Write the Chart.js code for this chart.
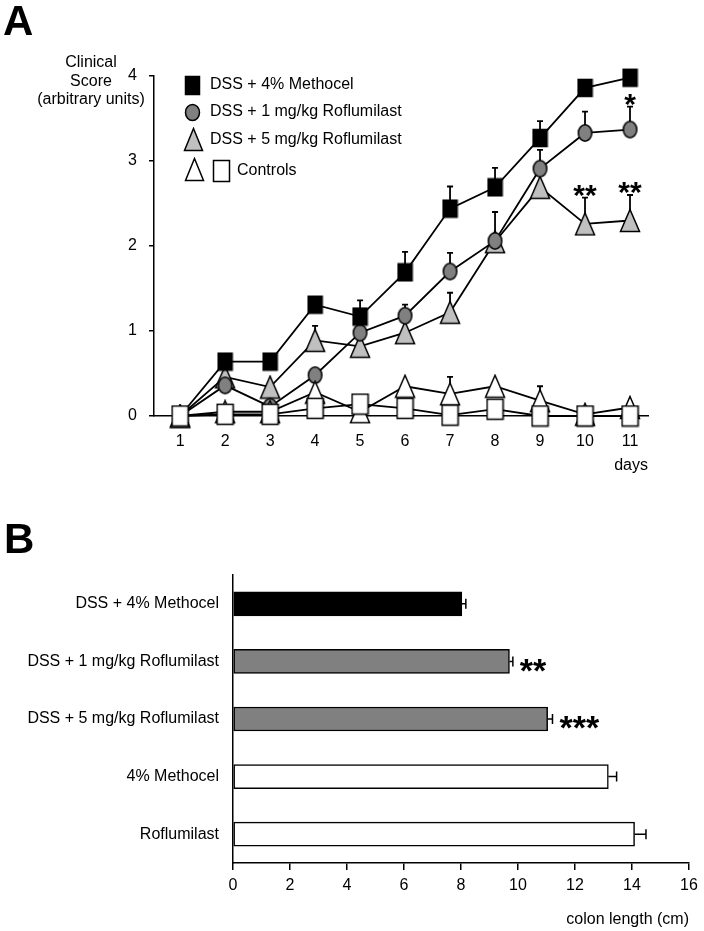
<!DOCTYPE html>
<html>
<head>
<meta charset="utf-8">
<script src="https://cdn.jsdelivr.net/npm/chart.js@4.4.1/dist/chart.umd.min.js"></script>
<style>
  html, body { margin: 0; padding: 0; background: #fff; }
  #page { position: relative; width: 704px; height: 931px; }
  .box { position: absolute; left: 0; width: 704px; }
  #boxA { top: 0; height: 480px; }
  #boxB { top: 480px; height: 451px; }
</style>
</head>
<body>
<div id="page">
  <div class="box" id="boxA"><canvas id="chartA"></canvas></div>
  <div class="box" id="boxB"><canvas id="chartB"></canvas></div>
</div>
<script>
// panel A: clinical score per day
const days = [1, 2, 3, 4, 5, 6, 7, 8, 9, 10, 11];
const scoreTicks = [0, 1, 2, 3, 4];

const methocel    = [0, 0.64, 0.64, 1.31, 1.17, 1.69, 2.44, 2.69, 3.27, 3.86, 3.98];
const methocelErr = [0, 0.03, 0.03, 0, 0.19, 0.24, 0.26, 0.23, 0.20, 0, 0];

const rof1    = [0, 0.36, 0.11, 0.48, 0.98, 1.18, 1.70, 2.06, 2.91, 3.33, 3.37];
const rof1Err = [0, 0.03, 0, 0, 0, 0.13, 0.22, 0.34, 0.22, 0.25, 0.27];
const rof1Stars = ['', '', '', '', '', '', '', '', '', '', '*'];

const rof5    = [0, 0.46, 0.34, 0.89, 0.82, 0.98, 1.22, 2.05, 2.69, 2.26, 2.30];
const rof5Err = [0, 0, 0, 0.17, 0, 0, 0.23, 0, 0, 0.31, 0.30];
const rof5Stars = ['', '', '', '', '', '', '', '', '', '**', '**'];

const ctrlTri    = [0, 0.05, 0.05, 0.28, 0.05, 0.35, 0.26, 0.35, 0.18, 0.02, 0.10];
const ctrlTriErr = [0, 0, 0, 0, 0, 0, 0.20, 0, 0.17, 0, 0];

const ctrlSq    = [0, 0.02, 0.02, 0.09, 0.14, 0.09, 0.01, 0.08, 0, 0, 0];
const ctrlSqErr = [0, 0, 0, 0, 0, 0, 0, 0, 0, 0, 0];

const legendLabels = ['DSS + 4% Methocel', 'DSS + 1 mg/kg Roflumilast', 'DSS + 5 mg/kg Roflumilast', 'Controls'];

// panel B: colon length
const groups = ['DSS + 4% Methocel', 'DSS + 1 mg/kg Roflumilast', 'DSS + 5 mg/kg Roflumilast', '4% Methocel', 'Roflumilast'];
const colonLength = [8.03, 9.70, 11.04, 13.17, 14.09];
const colonErr    = [0.14, 0.12, 0.17, 0.29, 0.40];
const colonStars  = ['', '**', '***', '', ''];
const lengthTicks = [0, 2, 4, 6, 8, 10, 12, 14, 16];

const FONT = "'Liberation Sans', Arial, sans-serif";
Chart.defaults.font.family = FONT;
Chart.defaults.font.size = 16;
Chart.defaults.color = '#000';

function marker(shape, w, h, fill) {
  const lw = 1.5;
  const c = document.createElement('canvas');
  c.width = Math.ceil(w + lw * 2);
  c.height = Math.ceil(h + lw * 2);
  const g = c.getContext('2d');
  const cx = c.width / 2, cy = c.height / 2;
  g.fillStyle = fill;
  g.strokeStyle = '#000';
  g.lineWidth = lw;
  g.beginPath();
  if (shape === 'rect') {
    g.rect(cx - w / 2, cy - h / 2, w, h);
  } else if (shape === 'ellipse') {
    g.ellipse(cx, cy, w / 2, h / 2, 0, 0, Math.PI * 2);
  } else {
    g.moveTo(cx, cy - h / 2);
    g.lineTo(cx + w / 2, cy + h / 2);
    g.lineTo(cx - w / 2, cy + h / 2);
    g.closePath();
  }
  g.fill();
  g.stroke();
  return c;
}

const mSquareBlack = marker('rect', 14, 17, '#000');
const mCircle = marker('ellipse', 13.5, 16.5, '#808080');
const mTriGray = marker('tri', 19, 22, '#c0c0c0');
const mTriWhite = marker('tri', 19, 22, '#fff');
const mSquareWhite = marker('rect', 16, 20, '#fff');

function series(values, errors, style, stars) {
  return {
    data: days.map((d, i) => ({ x: d, y: values[i] })),
    errors: errors,
    stars: stars || null,
    borderColor: '#000',
    borderWidth: 1.8,
    pointStyle: style,
    pointRadius: 8,
    pointHoverRadius: 8,
    clip: false,
    tension: 0
  };
}

const errorBarsA = {
  id: 'errorBarsA',
  beforeDatasetDraw(chart, args) {
    const ds = chart.data.datasets[args.index];
    const { ctx, scales: { x, y } } = chart;
    ctx.save();
    ctx.strokeStyle = '#000';
    ctx.lineWidth = 1.8;
    ds.data.forEach((p, i) => {
      const e = ds.errors[i];
      if (!e) return;
      const px = x.getPixelForValue(p.x);
      const y0 = y.getPixelForValue(p.y);
      const y1 = y.getPixelForValue(p.y + e);
      ctx.beginPath();
      ctx.moveTo(px, y0);
      ctx.lineTo(px, y1);
      ctx.moveTo(px - 3, y1);
      ctx.lineTo(px + 3, y1);
      ctx.stroke();
    });
    ctx.restore();
  },
  afterDatasetsDraw(chart) {
    const { ctx, scales: { x, y } } = chart;
    const fs = 30;
    ctx.save();
    ctx.fillStyle = '#000';
    ctx.font = 'bold ' + fs + 'px ' + FONT;
    ctx.textAlign = 'center';
    ctx.textBaseline = 'alphabetic';
    chart.data.datasets.forEach(ds => {
      if (!ds.stars) return;
      ds.data.forEach((p, i) => {
        if (!ds.stars[i]) return;
        const px = x.getPixelForValue(p.x);
        const py = y.getPixelForValue(p.y + ds.errors[i]) - 10;
        ctx.fillText(ds.stars[i], px, py + 0.57 * fs);
      });
    });
    ctx.restore();
  },
  afterDraw(chart) {
    const ctx = chart.ctx;
    ctx.save();
    ctx.fillStyle = '#000';
    ctx.font = 'bold 42px ' + FONT;
    ctx.textAlign = 'left';
    ctx.textBaseline = 'alphabetic';
    ctx.fillText('A', 3, 35);

    ctx.font = '16px ' + FONT;
    ctx.textAlign = 'center';
    ctx.textBaseline = 'middle';
    ctx.fillText('Clinical', 91, 63);
    ctx.fillText('Score', 91, 82);
    ctx.fillText('(arbitrary units)', 91, 100);

    // legend
    const put = (img, cx, cy) => ctx.drawImage(img, Math.round(cx - img.width / 2), Math.round(cy - img.height / 2));
    put(marker('rect', 14, 18, '#000'), 192, 85);
    put(marker('ellipse', 14, 16, '#808080'), 192, 112);
    put(marker('tri', 18, 22, '#c0c0c0'), 193, 139);
    put(marker('tri', 18, 22, '#fff'), 194, 169);
    put(marker('rect', 16, 21, '#fff'), 221, 171);
    ctx.textAlign = 'left';
    ctx.fillText(legendLabels[0], 210, 85);
    ctx.fillText(legendLabels[1], 210, 112);
    ctx.fillText(legendLabels[2], 210, 140);
    ctx.fillText(legendLabels[3], 237, 171);
    ctx.restore();
  }
};

new Chart(document.getElementById('chartA'), {
  type: 'line',
  data: {
    // first dataset is drawn on top
    datasets: [
      series(ctrlSq, ctrlSqErr, mSquareWhite),
      series(methocel, methocelErr, mSquareBlack),
      series(ctrlTri, ctrlTriErr, mTriWhite),
      series(rof1, rof1Err, mCircle, rof1Stars),
      series(rof5, rof5Err, mTriGray, rof5Stars)
    ]
  },
  options: {
    responsive: true,
    maintainAspectRatio: false,
    animation: false,
    events: [],
    layout: { padding: { top: 76, right: 56, left: 0, bottom: 0 } },
    plugins: { legend: { display: false }, tooltip: { enabled: false } },
    scales: {
      x: {
        type: 'linear',
        min: 0.42,
        max: 11.4,
        afterBuildTicks: s => { s.ticks = days.map(v => ({ value: v })); },
        afterFit: s => { s.height = 64; },
        grid: { display: false, drawTicks: false },
        border: { color: '#000', width: 1.5 },
        ticks: { padding: 16, font: { size: 16 }, color: '#000', maxRotation: 0 },
        title: { display: true, text: 'days', align: 'end', font: { size: 16 }, padding: { top: 0, bottom: 5 } }
      },
      y: {
        min: 0,
        max: 4,
        afterBuildTicks: s => { s.ticks = scoreTicks.map(v => ({ value: v })); },
        afterFit: s => { s.width = 154; },
        grid: { drawOnChartArea: false, drawTicks: true, tickLength: 5, color: '#000', lineWidth: 1.5 },
        border: { color: '#000', width: 1.5 },
        ticks: { padding: 12, font: { size: 16 }, color: '#000' }
      }
    }
  },
  plugins: [errorBarsA]
});

const errorBarsB = {
  id: 'errorBarsB',
  afterDatasetsDraw(chart) {
    const { ctx, scales: { x } } = chart;
    const ds = chart.data.datasets[0];
    const meta = chart.getDatasetMeta(0);
    const fs = 34;
    ctx.save();
    ctx.strokeStyle = '#000';
    ctx.fillStyle = '#000';
    ctx.lineWidth = 1.5;
    ds.data.forEach((v, i) => {
      const yc = meta.data[i].y;
      const x0 = x.getPixelForValue(v);
      const x1 = x.getPixelForValue(v + ds.errors[i]);
      ctx.beginPath();
      ctx.moveTo(x0, yc);
      ctx.lineTo(x1, yc);
      ctx.moveTo(x1, yc - 5);
      ctx.lineTo(x1, yc + 5);
      ctx.stroke();
      if (ds.stars[i]) {
        ctx.font = 'bold ' + fs + 'px ' + FONT;
        ctx.textAlign = 'left';
        ctx.textBaseline = 'alphabetic';
        ctx.fillText(ds.stars[i], x1 + 7, yc + 1 + 0.57 * fs);
      }
    });
    ctx.restore();
  },
  afterDraw(chart) {
    const ctx = chart.ctx;
    ctx.save();
    ctx.fillStyle = '#000';
    ctx.font = 'bold 42px ' + FONT;
    ctx.textAlign = 'left';
    ctx.textBaseline = 'alphabetic';
    ctx.fillText('B', 4, 73);
    ctx.restore();
  }
};

new Chart(document.getElementById('chartB'), {
  type: 'bar',
  data: {
    labels: groups,
    datasets: [{
      data: colonLength,
      errors: colonErr,
      stars: colonStars,
      backgroundColor: ['#000', '#808080', '#808080', '#fff', '#fff'],
      borderColor: '#000',
      borderWidth: 1.5,
      borderSkipped: false,
      barThickness: 24
    }]
  },
  options: {
    indexAxis: 'y',
    responsive: true,
    maintainAspectRatio: false,
    animation: false,
    events: [],
    layout: { padding: { top: 95, right: 15, left: 0, bottom: 0 } },
    plugins: { legend: { display: false }, tooltip: { enabled: false } },
    scales: {
      x: {
        min: 0,
        max: 16,
        afterBuildTicks: s => { s.ticks = lengthTicks.map(v => ({ value: v })); },
        afterFit: s => { s.height = 68; },
        grid: { drawOnChartArea: false, drawTicks: true, tickLength: 7, color: '#000', lineWidth: 1.5 },
        border: { color: '#000', width: 1.5 },
        ticks: { padding: 6, font: { size: 16 }, color: '#000', maxRotation: 0 },
        title: { display: true, text: 'colon length (cm)', align: 'end', font: { size: 16 }, padding: { top: 0, bottom: 2 } }
      },
      y: {
        afterFit: s => { s.width = 233; },
        grid: { display: false, drawTicks: false },
        border: { color: '#000', width: 1.5 },
        ticks: { padding: 14, font: { size: 16 }, color: '#000' }
      }
    }
  },
  plugins: [errorBarsB]
});
</script>
</body>
</html>
